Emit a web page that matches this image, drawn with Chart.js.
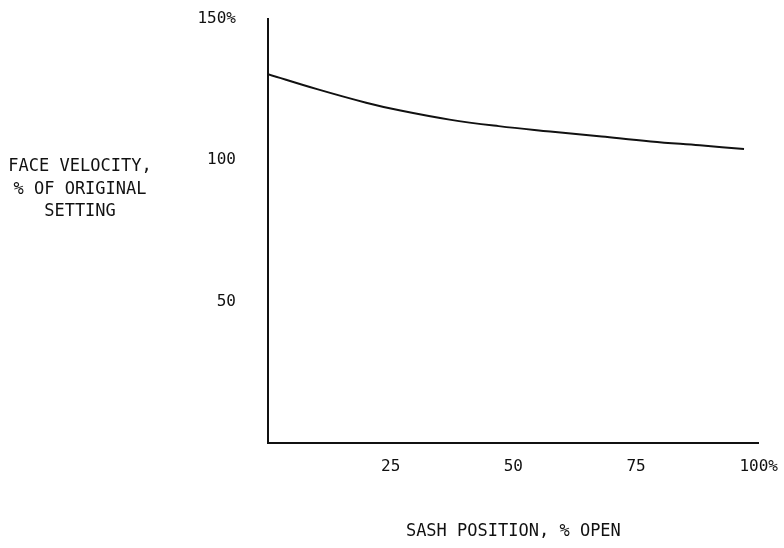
<!DOCTYPE html>
<html lang="en">

<head>
  <meta charset="UTF-8">
  <title>Face Velocity vs Sash Position</title>
  <script src="https://cdn.jsdelivr.net/npm/chart.js"></script>
  <style>
    body {
      margin: 0;
      background: #fff;
    }

    #wrap {
      width: 784px;
      height: 548px;
    }
  </style>
</head>

<body>
  <div id="wrap"><canvas id="chart"></canvas></div>
  <script>
    // sash position (% open) and face velocity (% of original setting)
    const sashOpen = [0, 10, 20, 27, 37, 47, 57.5, 68, 78, 88, 97];
    const faceVelocity = [130.5, 125.2, 120.4, 117.6, 114.4, 112.1, 110.2, 108.4, 106.7, 105.3, 104];
    const xTicks = [25, 50, 75, 100];
    const yTicks = [50, 100, 150];
    const yTitle = ['FACE VELOCITY,', '% OF ORIGINAL', 'SETTING'];
    const xTitle = 'SASH POSITION, % OPEN';

    const ink = '#111';
    const mono = "'DejaVu Sans Mono', monospace";

    // horizontal, multi-line y title to the left of the axis
    const sideTitle = {
      id: 'sideTitle',
      afterDraw(chart) {
        const { ctx, chartArea } = chart;
        ctx.save();
        ctx.fillStyle = ink;
        ctx.font = '17px ' + mono;
        ctx.textAlign = 'center';
        ctx.textBaseline = 'middle';
        yTitle.forEach((line, i) => {
          ctx.fillText(line, chartArea.left - 188, chartArea.top + 148 + i * 22.5);
        });
        ctx.restore();
      }
    };

    new Chart(document.getElementById('chart'), {
      type: 'line',
      data: {
        datasets: [{
          data: sashOpen.map((x, i) => ({ x, y: faceVelocity[i] })),
          borderColor: ink,
          borderWidth: 2,
          pointRadius: 0,
          tension: 0.4,
          fill: false
        }]
      },
      options: {
        responsive: true,
        maintainAspectRatio: false,
        animation: false,
        layout: { padding: { top: 19, right: 20, left: 0, bottom: 0 } },
        plugins: {
          legend: { display: false },
          tooltip: { enabled: false }
        },
        scales: {
          x: {
            type: 'linear',
            min: 0,
            max: 100,
            afterBuildTicks: s => { s.ticks = xTicks.map(v => ({ value: v })); },
            afterFit: s => { s.height = 105; },
            grid: { display: false },
            border: { display: true, color: ink, width: 2 },
            ticks: {
              color: ink,
              padding: 6,
              maxRotation: 0,
              font: { family: mono, size: 16 },
              callback: v => v === 100 ? '100%' : String(v)
            },
            title: {
              display: true,
              text: xTitle,
              color: ink,
              font: { family: mono, size: 17 },
              padding: { top: 0, bottom: 6 }
            }
          },
          y: {
            min: 0,
            max: 150,
            afterBuildTicks: s => { s.ticks = yTicks.map(v => ({ value: v })); },
            afterFit: s => { s.width = 268; s.paddingTop = 0; s.paddingBottom = 0; },
            grid: { display: false },
            border: { display: true, color: ink, width: 2 },
            ticks: {
              color: ink,
              padding: 24,
              font: { family: mono, size: 16 },
              callback: v => v === 150 ? '150%' : String(v)
            }
          }
        }
      },
      plugins: [sideTitle]
    });
  </script>
</body>

</html>
